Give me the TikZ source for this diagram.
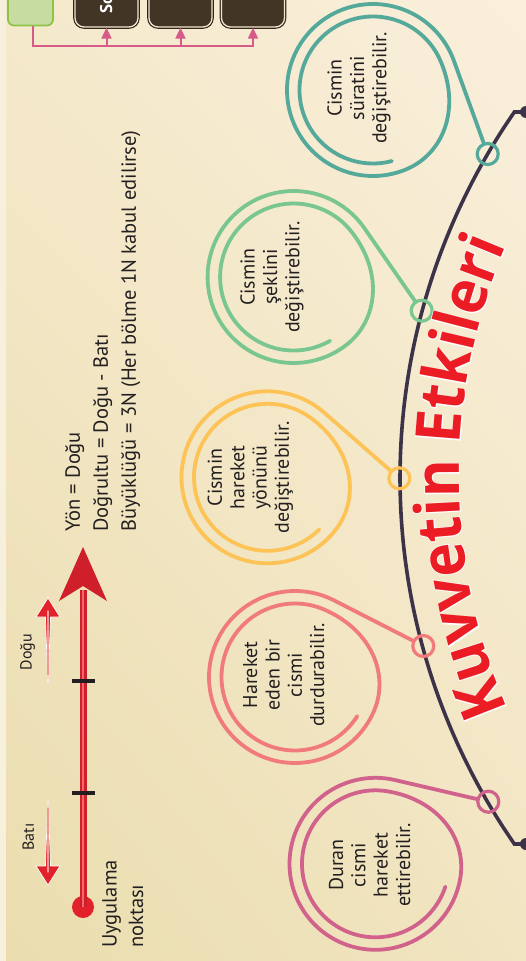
\documentclass[tikz,border=0pt]{standalone}
\usepackage{fontspec}
\setmainfont{PT Sans}
\newfontfamily\titlefont{Open Sans}[FakeStretch=0.93]
\newfontfamily\titlefontw{Open Sans}[FakeStretch=0.93, FakeBold=2.5]
\usetikzlibrary{decorations.text,arrows.meta,shadings}
\definecolor{bgUL}{HTML}{F5E9CC}
\definecolor{bgLL}{HTML}{EADDAE}
\definecolor{bgUR}{HTML}{FAEFDB}
\definecolor{bgLR}{HTML}{F1E5C2}
\definecolor{stripc}{HTML}{F7F0DC}
\definecolor{arcc}{HTML}{3C3349}
\definecolor{tealc}{HTML}{55A99A}
\definecolor{greenc}{HTML}{7AC690}
\definecolor{yellowc}{HTML}{FDC356}
\definecolor{pinkc}{HTML}{F07A7C}
\definecolor{magc}{HTML}{D0628B}
\definecolor{titlered}{HTML}{EC1C24}
\definecolor{vecred}{HTML}{E2222A}
\definecolor{vecdark}{HTML}{CE1F2A}
\definecolor{veclight}{HTML}{F4676C}
\definecolor{arrlight}{HTML}{F09A98}
\definecolor{linkpink}{HTML}{D75B88}
\definecolor{boxdark}{HTML}{433526}
\definecolor{boxcream}{HTML}{F3E8CC}
\definecolor{boxgreen}{HTML}{C7DCA0}
\definecolor{boxgreenb}{HTML}{8DC447}
\definecolor{textc}{HTML}{231F20}
\newcommand\drawbubble[7]{%
  \node[ring, draw=#7] (#1r) at (#4,#5) {};
  \coordinate (#1t) at ({#2+86*cos(#6)}, {#3-86*sin(#6)});
  \draw[spiralline, draw=#7] (#1r) -- (#1t) -- plot[domain=#6:#6+625, samples=260, smooth, variable=\q]
    ({#2+rsp(\q-#6)*cos(\q)}, {#3-rsp(\q-#6)*sin(\q)});
}
\begin{document}
\begin{tikzpicture}[x=1pt, y=-1pt,
  declare function={rsp(\u)=86-12.5*(1-cos(180*min(1,max(0,(\u-274)/90))))/2;},
  arcline/.style={draw=arcc, line width=3.6},
  spiralline/.style={line width=3.8, line cap=round, line join=round},
  ring/.style={circle, line width=3.2, minimum size=21, inner sep=0},
  btext/.style={rotate=90, align=center, text=textc, inner sep=0, font=\fontsize{20}{22.3}\selectfont},
  ltext/.style={rotate=90, align=left, text=textc, inner sep=0},
  gbox/.style={rounded corners=6, fill=boxgreen, draw=boxgreenb, line width=1.8, minimum width=45, minimum height=51, inner sep=0},
  dbox/.style={rounded corners=9, fill=boxdark, draw=boxcream, line width=1.3, minimum width=63, minimum height=50, inner sep=0,
     preaction={draw=boxdark!70!black, line width=3.6}},
  link/.style={draw=linkpink, line width=2},
  linktip/.style={-{Triangle[length=11, width=10]}},
  smallarrow/.style={fill=vecred, draw=white, line width=0.7},
  tick/.style={draw=textc, line width=3.5},
  enddot/.style={circle, fill=arcc, minimum size=12, inner sep=0}
]
\useasboundingbox (0,0) rectangle (526,961);
\clip (0,0) rectangle (526,961);
% background
\shade[lower left=bgLL, upper left=bgUL, upper right=bgUR, lower right=bgLR] (0,0) rectangle (526,961);
\fill[stripc] (0,0) rectangle (6,961);

% top boxes
\node[gbox] (gb) at (30.5,0) {};
\node[dbox] (b1) at (106.5,2) {};
\node[dbox] (b2) at (180.5,2) {};
\node[dbox] (b3) at (253,2) {};
\node[rotate=90, anchor=base west, inner sep=0, text=white, font=\fontsize{17}{17}\selectfont\bfseries] (so) at (112,13.5) {So};
\coordinate (hj) at (33.3,46);
\draw[link, linktip] ([xshift=2.8]gb.south) |- (b3.south |- hj) -- (b3.south);
\draw[link, linktip] (b1.south |- hj) -- (b1.south);
\draw[link, linktip] (b2.south |- hj) -- (b2.south);

% vector
\node[circle, fill=vecred, minimum size=22, inner sep=0] (pt) at (83,907) {};
\coordinate (vbase) at (83,590);
\coordinate (vtip) at (83,547);
\coordinate (vwr) at (107,601);
\coordinate (vwl) at (59,601);
\coordinate (vnotch) at (83,586);
\draw[line width=7, vecdark] (pt.center) -- (vbase);
\draw[line width=2.4, veclight] (pt.center) -- (vbase);
\fill[vecdark] (vtip) -- (vwr) -- (vnotch) -- (vwl) -- cycle;
\draw[tick] (72,681) -- (95,681);
\draw[tick] (72,793) -- (95,793);
\path[smallarrow] (48,797) -- (50.6,866) -- (60,866) -- (48,885) -- (36,866) -- (45.4,866) -- cycle;
\draw[arrlight, line width=1.4, line cap=round] (48,808) -- (48,872);
\path[smallarrow] (48,686) -- (50.6,617) -- (60,617) -- (48,598) -- (36,617) -- (45.4,617) -- cycle;
\draw[arrlight, line width=1.4, line cap=round] (48,675) -- (48,611);
\node[rotate=90, text=textc, inner sep=0, font=\fontsize{16}{18}\selectfont] (bati) at (28.3,837) {Batı};
\node[rotate=90, text=textc, inner sep=0, font=\fontsize{16}{18}\selectfont] (dogu) at (27.5,652) {Doğu};
\node[ltext, anchor=north west, font=\fontsize{20.5}{26.5}\selectfont] (uyg) at (102,948) {Uygulama\\noktası};
\node[ltext, anchor=north west, font=\fontsize{20.5}{28}\selectfont] (info) at (65,532)
  {Yön = Doğu\\Doğrultu = Doğu - Batı\\Büyüklüğü = 3N (Her bölme 1N kabul edilirse)};

% big arc
\node[enddot] (e1) at (526,112) {};
\node[enddot] (e2) at (526,844) {};
\draw[arcline] (e1.center) -- plot[domain=-34.7:34.7, samples=120, variable=\q] ({1043-643*cos(\q)}, {478+643*sin(\q)}) -- (e2.center);

% bubbles
\drawbubble{teal}{373}{90}{487.7}{154}{19.9}{tealc}
\drawbubble{green}{293.6}{277}{421.7}{310.7}{34.8}{greenc}
\drawbubble{yellow}{267.5}{477.3}{399.3}{478.3}{49.7}{yellowc}
\drawbubble{pink}{295}{677}{423.3}{646}{62.9}{pinkc}
\drawbubble{mag}{375.5}{863.8}{488.3}{801.7}{76.9}{magc}
\node[btext] (tealtx) at (359,88) {Cismin\\süratini\\değiştirebilir.};
\node[btext] (greentx) at (272,277) {Cismin\\şeklini\\değiştirebilir.};
\node[btext] (yellowtx) at (250.4,477.5) {Cismin\\hareket\\yönünü\\değiştirebilir.};
\node[btext] (pinktx) at (283.8,675) {Hareket\\eden bir\\cismi\\durdurabilir.};
\node[btext] (magtx) at (369.6,865) {Duran\\cismi\\hareket\\ettirebilir.};

% title along a curve concentric with the arc
\path[decorate, decoration={text along path, text align=center, text color=white,
   text={|\titlefontw\fontsize{62}{62}\selectfont\bfseries|Kuvvetin Etkileri}}]
   plot[domain=-30.15:29.85, samples=90, smooth, variable=\q] ({1043-584*cos(\q)}, {476-584*sin(\q)});
\path[decorate, decoration={text along path, text align=center, text color=titlered,
   text={|\titlefont\fontsize{62}{62}\selectfont\bfseries|Kuvvetin Etkileri}}]
   plot[domain=-30.15:29.85, samples=90, smooth, variable=\q] ({1043-584*cos(\q)}, {476-584*sin(\q)});
\end{tikzpicture}
\end{document}
